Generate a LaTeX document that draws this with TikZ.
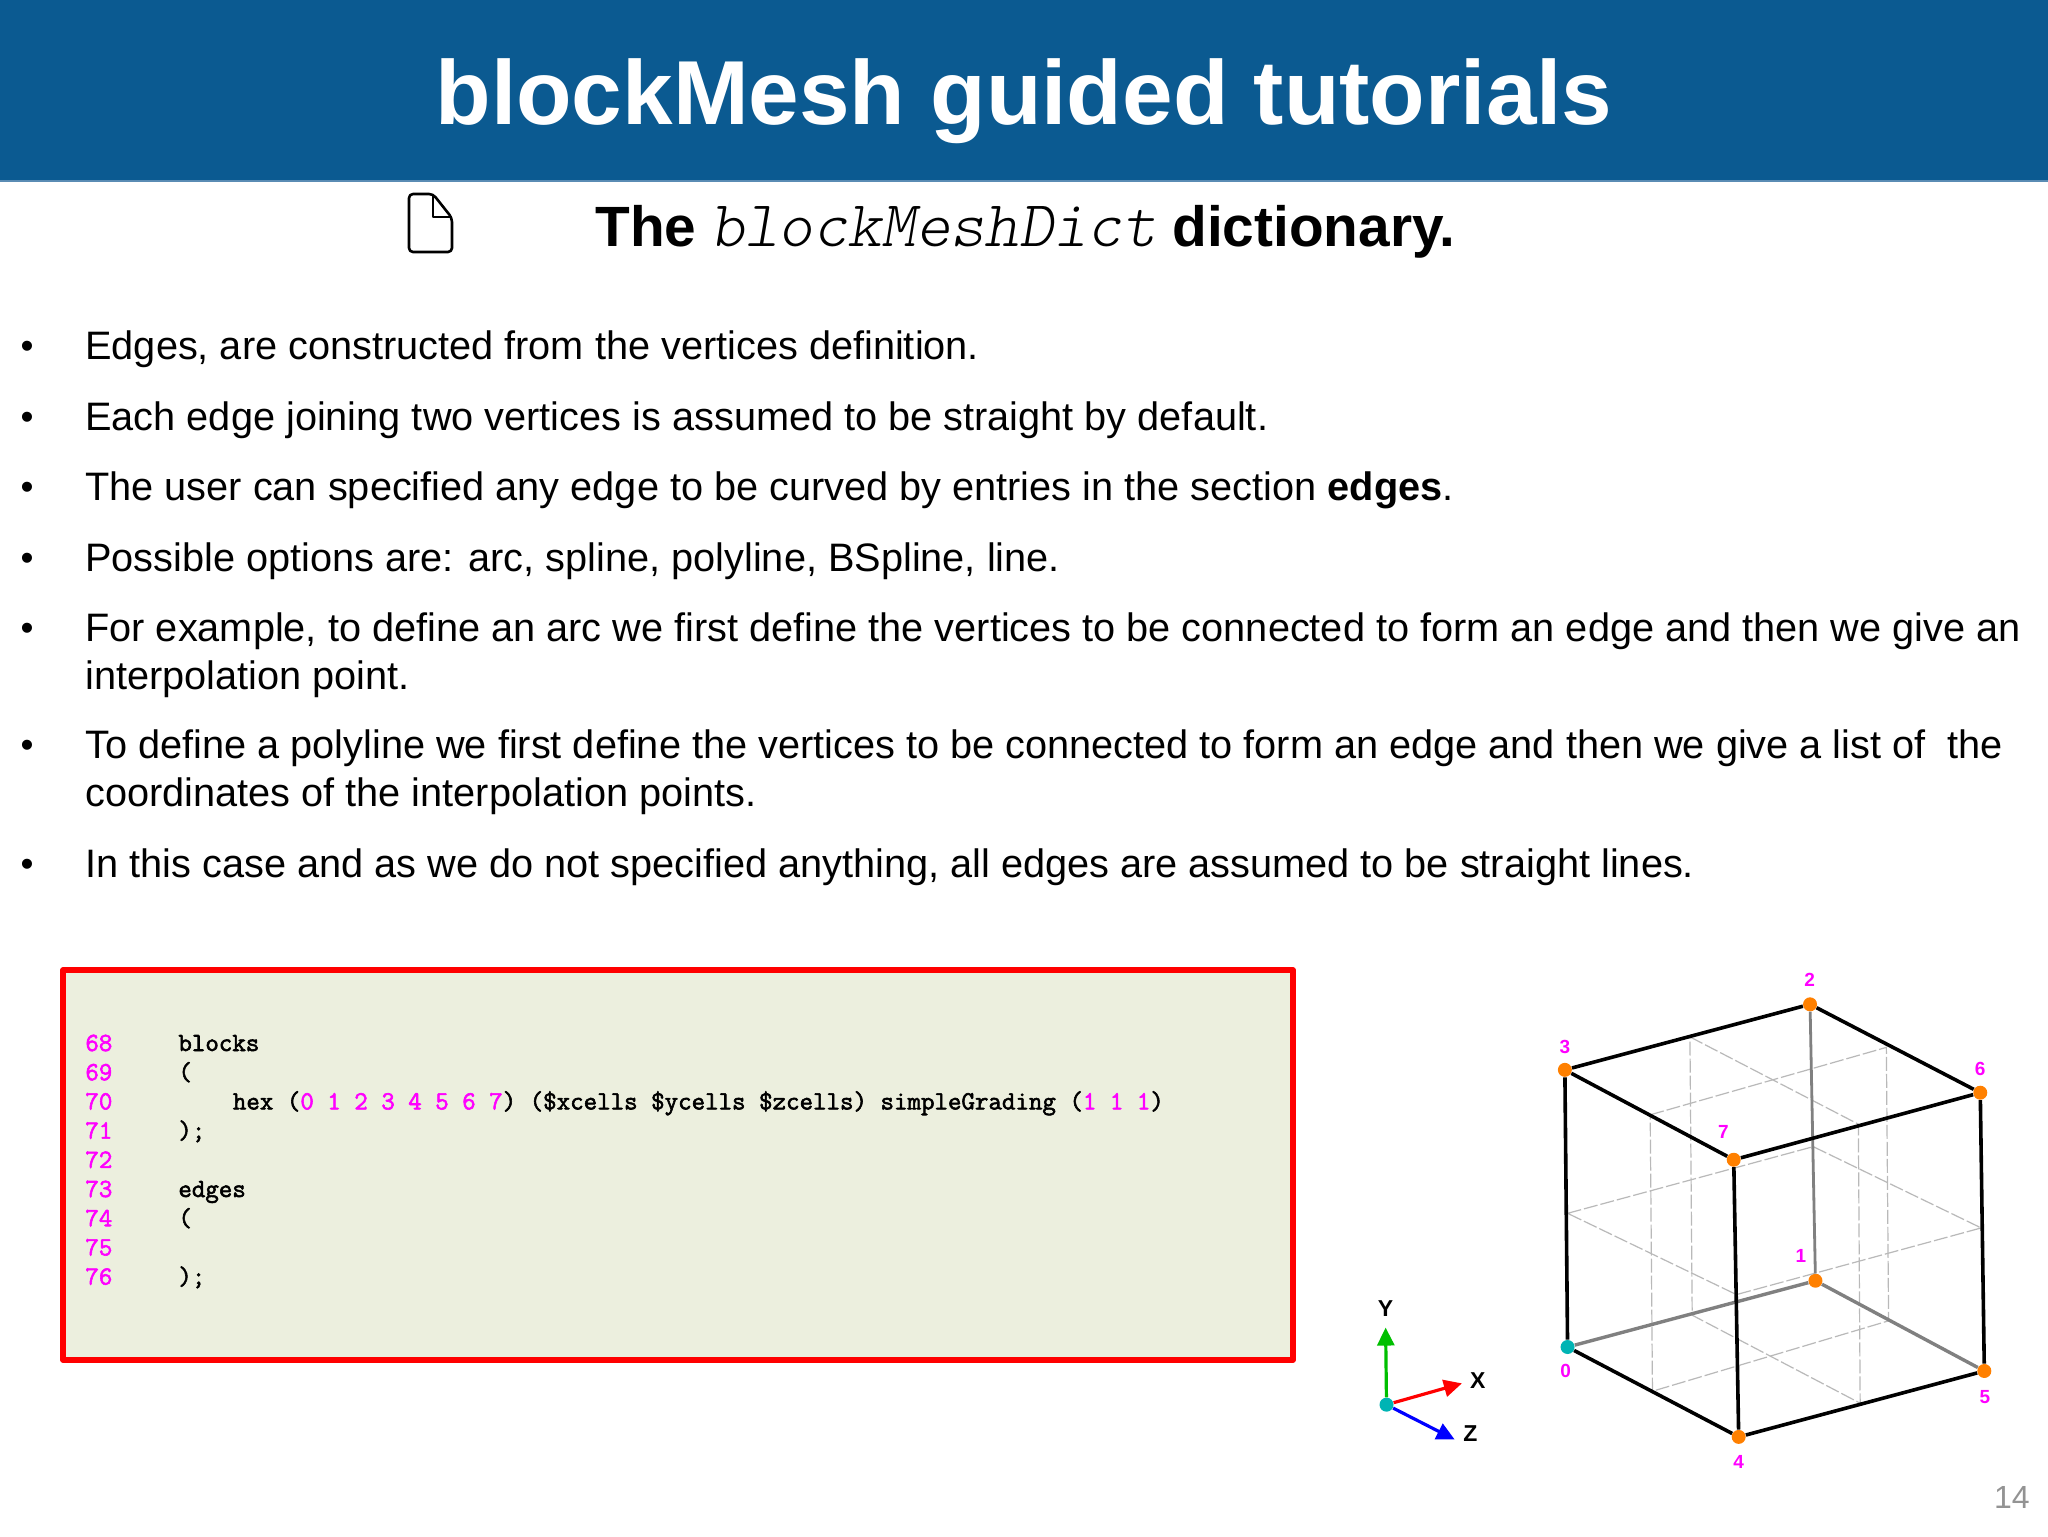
\documentclass[tikz,border=0pt]{standalone}
\usepackage{fontspec}
\setmainfont{Liberation Sans}
\setmonofont{Latin Modern Mono}[AutoFakeBold=2.2]
\newfontfamily\monoit{Latin Modern Mono Light}
\usetikzlibrary{arrows.meta}
\definecolor{hdr}{RGB}{11,90,145}
\definecolor{hdrline}{RGB}{90,140,180}
\definecolor{boxfill}{RGB}{236,239,222}
\definecolor{mg}{RGB}{255,0,255}
\definecolor{org}{RGB}{255,128,0}
\definecolor{cy}{RGB}{0,180,180}
\definecolor{gr}{RGB}{128,128,128}
\definecolor{dashc}{RGB}{185,185,185}
\newcommand{\mgt}[1]{\textcolor{mg}{#1}}
\tikzset{
  bodytext/.style={anchor=base west,inner sep=0pt,font=\fontsize{19.85}{24}\selectfont,text=black},
  bullettext/.style={anchor=base,inner sep=0pt,font=\fontsize{18.5}{24}\selectfont},
  codetext/.style={anchor=base west,inner sep=0pt,font=\fontsize{13.1}{15}\selectfont\ttfamily\bfseries},
  numtext/.style={codetext,text=mg},
  vdot/.style={circle,fill=org,inner sep=0pt,minimum size=7pt},
  vdotc/.style={circle,fill=cy,inner sep=0pt,minimum size=7pt},
  vlab/.style={inner sep=0pt,text=mg,font=\fontsize{9.5}{11}\selectfont\bfseries},
  axlab/.style={inner sep=0pt,text=black,font=\fontsize{11.5}{13}\selectfont\bfseries},
  edgeb/.style={draw=black,line width=1.8pt},
  edgeg/.style={draw=gr,line width=1.7pt},
  dashl/.style={draw=dashc,line width=0.6pt,dash pattern=on 7pt off 1.5pt},
  axarrow/.style={line width=1.6pt,-{Triangle[length=9pt,width=8.5pt]}},
}
\begin{document}
\begin{tikzpicture}[x=0.5pt,y=-0.5pt]
\useasboundingbox (0,0) rectangle (2048,1536);
\fill[white] (0,0) rectangle (2048,1536);
\fill[hdr] (0,0) rectangle (2048,180);
\draw[hdrline,line width=1pt] (0,180.5) -- (2048,180.5);
\node[anchor=base,inner sep=0pt,text=white,font=\fontsize{45.45}{50}\selectfont\bfseries] (title) at (1024,125) {blockMesh guided tutorials};
% icon
\draw[black,line width=1.3pt,line join=round,rounded corners=2pt] (409,194) -- (433,194) -- (452,218) -- (452,252) -- (409,252) -- cycle;
\draw[black,line width=1pt,line join=round] (433,194) -- (433,217) -- (452,217);
\node[anchor=base west,inner sep=0pt,font=\fontsize{28.4}{32}\selectfont] (sub) at (595,246) {\textbf{The}\hspace{-1pt} {\monoit\fontsize{32.7}{32}\selectfont\itshape blockMeshDict} \textbf{dictionary.}};
% bullets
\foreach \nm/\yy in {a/358,b/429,c/499,d/570,e/640,f/757.5,g/876}
  \node[bullettext] (bul\nm) at (27,\yy) {•};
\node[bodytext] (l1) at (85,359) {Edges, are constructed from the vertices definition.};
\node[bodytext] (l2) at (85,430) {Each edge joining two vertices is assumed to be straight by default.};
\node[bodytext] (l3) at (85,500) {The user can specified any edge to be curved by entries in the section \textbf{edges}.};
\node[bodytext] (l4) at (85,571) {Possible options are: arc, spline, polyline, BSpline, line.};
\node[bodytext] (l5) at (85,641) {For example, to define an arc we first define the vertices to be connected to form an edge and then we give an};
\node[bodytext] (l6) at (85,689) {interpolation point.};
\node[bodytext] (l7) at (85,758.5) {To define a polyline we first define the vertices to be connected to form an edge and then we give a list of\ \ the};
\node[bodytext] (l8) at (85,806.5) {coordinates of the interpolation points.};
\node[bodytext] (l9) at (85,877) {In this case and as we do not specified anything, all edges are assumed to be straight lines.};
% code box
\draw[draw=red,fill=boxfill,line width=2.7pt,line join=round] (63,970) rectangle (1293,1360);
\foreach \n [count=\i from 0] in {68,69,70,71,72,73,74,75,76}
  \node[numtext] (num\n) at (85,1051+29.2*\i) {\n};
\node[codetext] (c68) at (178,1051) {blocks};
\node[codetext] (c69) at (178,1080.2) {(};
\node[codetext] (c70) at (232.5,1109.4) {hex (\mgt{0 1 2 3 4 5 6 7}) (\$xcells \$ycells \$zcells) simpleGrading (\mgt{1 1 1})};
\node[codetext] (c71) at (178,1138.6) {);};
\node[codetext] (c73) at (178,1197) {edges};
\node[codetext] (c74) at (178,1226.2) {(};
\node[codetext] (c76) at (178,1284.6) {);};
% cube and axes (in the coordinates of the crop)
\begin{scope}[shift={(1340,950)},xscale=1/2.2147,yscale=1/2.67]
  \node[vdotc] (v0) at (504,1060) {};
  \node[vdot] (v1) at (1053,883) {};
  \node[vdot] (v2) at (1041,145) {};
  \node[vdot] (v3) at (498,320) {};
  \node[vdot] (v4) at (883,1300) {};
  \node[vdot] (v5) at (1427,1124) {};
  \node[vdot] (v6) at (1418,381) {};
  \node[vdot] (v7) at (872,560) {};
  \coordinate (ma) at (504,703);
  \coordinate (mb) at (1048,525);
  \coordinate (mc) at (1420,742);
  \coordinate (md) at (878,920);
  \coordinate (pa) at (775,232);
  \coordinate (pb) at (1148,465);
  \coordinate (pc) at (1152,1210);
  \coordinate (pd) at (780,975);
  \coordinate (qa) at (687,440);
  \coordinate (qb) at (1210,260);
  \coordinate (qc) at (1215,990);
  \coordinate (qd) at (692,1178);
  \draw[dashl] (ma) -- (mb) -- (mc) -- (md) -- cycle;
  \draw[dashl] (pa) -- (pb) -- (pc) -- (pd) -- cycle;
  \draw[dashl] (qa) -- (qb) -- (qc) -- (qd) -- cycle;
  \draw[edgeg] (v0) -- (v1);
  \draw[edgeg] (v1) -- (v5);
  \draw[edgeg,line width=1.4pt] (v1) -- (v2);
  \draw[edgeb] (v0) -- (v3);
  \draw[edgeb] (v0) -- (v4);
  \draw[edgeb] (v4) -- (v5);
  \draw[edgeb] (v5) -- (v6);
  \draw[edgeb] (v4) -- (v7);
  \draw[edgeb] (v7) -- (v3);
  \draw[edgeb] (v3) -- (v2);
  \draw[edgeb] (v2) -- (v6);
  \draw[edgeb] (v6) -- (v7);
  \node[vlab] (t0) at (500,1123) {0};
  \node[vlab] (t1) at (1021,818) {1};
  \node[vlab] (t2) at (1040,80) {2};
  \node[vlab] (t3) at (498,258) {3};
  \node[vlab] (t4) at (883,1367) {4};
  \node[vlab] (t5) at (1428,1194) {5};
  \node[vlab] (t6) at (1418,318) {6};
  \node[vlab] (t7) at (849,486) {7};
  % axes
  \node[vdotc] (o) at (103,1214) {};
  \coordinate (ty) at (101,1008);
  \coordinate (tx) at (270,1157);
  \coordinate (tz) at (254,1307);
  \draw[axarrow,green!75!black] (o) -- (ty);
  \draw[axarrow,red] (o) -- (tx);
  \draw[axarrow,blue] (o) -- (tz);
  \node[axlab] (ly) at (101,958) {Y};
  \node[axlab] (lx) at (305,1150) {X};
  \node[axlab] (lz) at (289,1292) {Z};
  \node[inner sep=0pt,text=gray!85,font=\fontsize{16}{18}\selectfont] (pg) at (1488,1462) {14};
\end{scope}
\end{tikzpicture}
\end{document}
